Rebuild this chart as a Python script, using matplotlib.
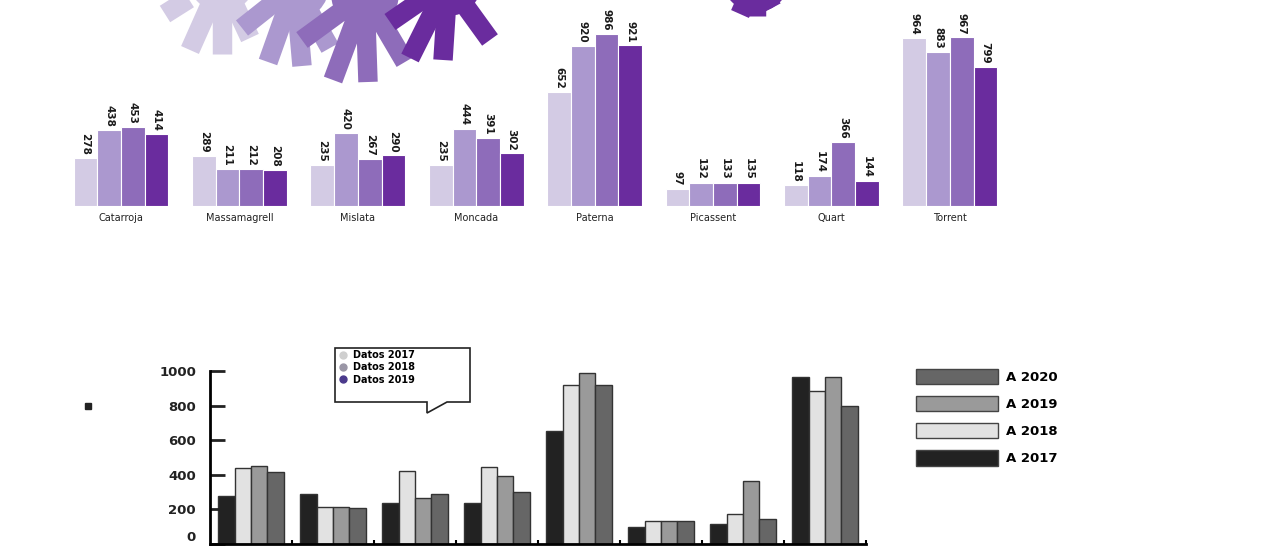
import numpy as np
import matplotlib
matplotlib.use("Agg")
import matplotlib.pyplot as plt
from matplotlib.patches import Patch, Polygon, Circle
from matplotlib.lines import Line2D

# Datos por municipio
municipios = ['Catarroja', 'Massamagrell', 'Mislata', 'Moncada',
              'Paterna', 'Picassent', 'Quart', 'Torrent']
v2017 = [278, 289, 235, 235, 652, 97, 118, 964]
v2018 = [438, 211, 420, 444, 920, 132, 174, 883]
v2019 = [453, 212, 267, 391, 986, 133, 366, 967]
v2020 = [414, 208, 290, 302, 921, 135, 144, 799]
series = [v2017, v2018, v2019, v2020]

anios = ['A 2017', 'A 2018', 'A 2019', 'A 2020']
datos_labels = ['Datos 2017', 'Datos 2018', 'Datos 2019']

morados = ['#d3cbe4', '#ab98cf', '#8e6cba', '#6a2c9e']
grises = ['#222222', '#e2e2e2', '#9a9a9a', '#666666']
puntos = ['#cfcfcf', '#9a96a6', '#4b3a8c']

W, H = 1280, 548
fig = plt.figure(figsize=(W / 100, H / 100), dpi=100)
fig.patch.set_facecolor('white')

# Capa decorativa en pixeles
deco = fig.add_axes([0, 0, 1, 1], zorder=0)
deco.set_xlim(0, W)
deco.set_ylim(H, 0)
deco.axis('off')
deco.patch.set_alpha(0)

# "Manos" decorativas arriba (palma fuera del cuadro)
manos = [
    ((222, -22), [(165, 14), (190, 50), (222, 54), (250, 38)], morados[0]),
    ((295, -14), [(242, 28), (268, 62), (302, 66), (330, 48)], morados[1]),
    ((365, -6), [(302, 40), (333, 80), (368, 82), (405, 62)], morados[2]),
    ((448, -18), [(390, 22), (410, 58), (443, 60), (490, 40)], morados[3]),
    ((756, -22), [(740, 14), (756, 16), (772, 8)], morados[3]),
]
for (cx, cy), tips, col in manos:
    deco.add_patch(Circle((cx, cy), 34, color=col, lw=0))
    for tx, ty in tips:
        deco.plot([cx, tx], [cy, ty], color=col, lw=14, solid_capstyle='butt')

# Bocadillo de la leyenda
bocadillo = [(335, 348), (470, 348), (470, 402), (447, 402), (427, 413),
             (427, 402), (335, 402)]
deco.add_patch(Polygon(bocadillo, closed=True, facecolor='white',
                       edgecolor='#222222', lw=1.2))
deco.plot([88], [406], marker='s', ms=4, color='#222222')

# Grafico superior (morados)
ax1 = fig.add_axes([0.0483, 0.624, 0.74, 0.35], zorder=2)
x = np.arange(len(municipios))
w = 0.2
for j, vals in enumerate(series):
    pos = x + (j - 1.5) * w
    ax1.bar(pos, vals, width=w, color=morados[j], edgecolor='white', lw=0.8)
    for p, v in zip(pos, vals):
        ax1.text(p, v + 18, str(v), rotation=270, ha='center', va='bottom',
                 fontsize=7.5, fontweight='bold', color='#1a1a1a', clip_on=False)
for i, m in enumerate(municipios):
    ax1.text(i, -40, m, ha='center', va='top', fontsize=7, color='#222222')
ax1.set_xlim(-0.5, 7.5)
ax1.set_ylim(0, 1100)
ax1.axis('off')

# Grafico inferior (grises)
ax2 = fig.add_axes([210 / W, 4 / H, 656 / W, 173 / H], zorder=2)
for j, vals in enumerate(series):
    pos = x + (j - 1.5) * w
    ax2.bar(pos, vals, width=w, color=grises[j], edgecolor='#333333', lw=1)
ax2.set_xlim(-0.5, 7.5)
ax2.set_ylim(0, 1000)
ax2.set_yticks(range(0, 1001, 200))
ax2.set_xticks([7.5])
ax2.set_xticklabels([''])
ax2.set_xticks(x[:-1] + 0.5, minor=True)
ax2.tick_params(axis='y', direction='in', length=11, width=2, labelsize=9.5,
                pad=10, colors='#222222')
ax2.tick_params(axis='x', which='both', direction='in', length=3, width=1.5)
for lab in ax2.get_yticklabels():
    lab.set_fontweight('bold')
ax2.get_yticklabels()[0].set_verticalalignment('bottom')
for s in ['top', 'right']:
    ax2.spines[s].set_visible(False)
ax2.spines['left'].set_linewidth(2)
ax2.spines['bottom'].set_linewidth(2)
ax2.patch.set_alpha(0)

# Leyenda de la derecha
handles = [Patch(facecolor=grises[j], edgecolor='#444444', lw=1) for j in range(4)][::-1]
fig.legend(handles, anios[::-1], loc='upper left',
           bbox_to_anchor=(916 / W, 1 - 369 / H), frameon=False,
           handlelength=6.2, handleheight=1.4, labelspacing=0.9,
           handletextpad=0.6, borderaxespad=0, borderpad=0,
           prop={'size': 9.5, 'weight': 'bold'})

# Leyenda del bocadillo
mk = [Line2D([], [], ls='none', marker='o', ms=5, color=c) for c in puntos]
fig.legend(mk, datos_labels, loc='upper left',
           bbox_to_anchor=(338 / W, 1 - 350 / H), frameon=False,
           handlelength=1.0, handletextpad=0.5, labelspacing=0.25,
           borderaxespad=0, borderpad=0,
           prop={'size': 7, 'weight': 'bold'})

fig.savefig('out.png', dpi=100)
